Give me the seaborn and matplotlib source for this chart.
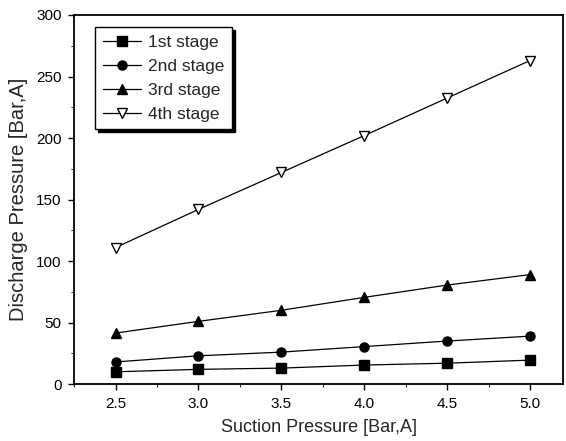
import matplotlib
matplotlib.use("Agg")
import matplotlib.pyplot as plt
import seaborn as sns
import pandas as pd
from matplotlib.ticker import MultipleLocator

suction = [2.5, 3.0, 3.5, 4.0, 4.5, 5.0]
stage1 = [10, 12, 13, 15.5, 17, 19.5]
stage2 = [18, 23, 26, 30.5, 35, 39]
stage3 = [41.5, 51, 60, 70.5, 80.5, 89]
stage4 = [111, 142, 172, 202, 232.5, 263]
labels = ["1st stage", "2nd stage", "3rd stage", "4th stage"]

sns.set_theme(style="ticks")
plt.rcParams['font.family'] = ['Liberation Sans', 'DejaVu Sans']

fig = plt.figure(figsize=(5.66, 4.41), dpi=100)
ax = fig.add_axes([0.131, 0.129, 0.864, 0.837])

series = [stage1, stage2, stage3, stage4]
markers = ["s", "o", "^", "v"]
for vals, lab, mk in zip(series, labels, markers):
    df = pd.DataFrame({"x": suction, "y": vals})
    face = "white" if mk == "v" else "black"
    sns.lineplot(data=df, x="x", y="y", ax=ax, color="black", linewidth=0.9,
                 marker=mk, markersize=6.5 if mk != "v" else 7,
                 markerfacecolor=face, markeredgecolor="black",
                 markeredgewidth=1.0, label=lab)

ax.set_xlim(2.25, 5.2)
ax.set_ylim(0, 300)
ax.xaxis.set_major_locator(MultipleLocator(0.5))
ax.xaxis.set_minor_locator(MultipleLocator(0.25))
ax.yaxis.set_major_locator(MultipleLocator(50))
ax.yaxis.set_minor_locator(MultipleLocator(25))
ax.tick_params(which="major", direction="out", length=4, width=1, labelsize=11, colors="black", pad=5)
ax.tick_params(which="minor", direction="out", length=2, width=0.8)
for s in ax.spines.values():
    s.set_linewidth(1.3)
    s.set_color("black")
ax.set_xlabel("Suction Pressure [Bar,A]", fontsize=13, labelpad=6)
ax.set_ylabel("Discharge Pressure [Bar,A]", fontsize=14.5, labelpad=6)

leg = ax.legend(loc="upper left", bbox_to_anchor=(0.043, 0.967), borderaxespad=0,
                frameon=True, fancybox=False, shadow={"color": "black", "alpha": 1.0},
                fontsize=12.5, handlelength=2.2,
                borderpad=0.45, labelspacing=0.5, handletextpad=0.4)
leg.get_frame().set_edgecolor("black")
leg.get_frame().set_linewidth(1.0)

fig.savefig("out.png", dpi=100)
